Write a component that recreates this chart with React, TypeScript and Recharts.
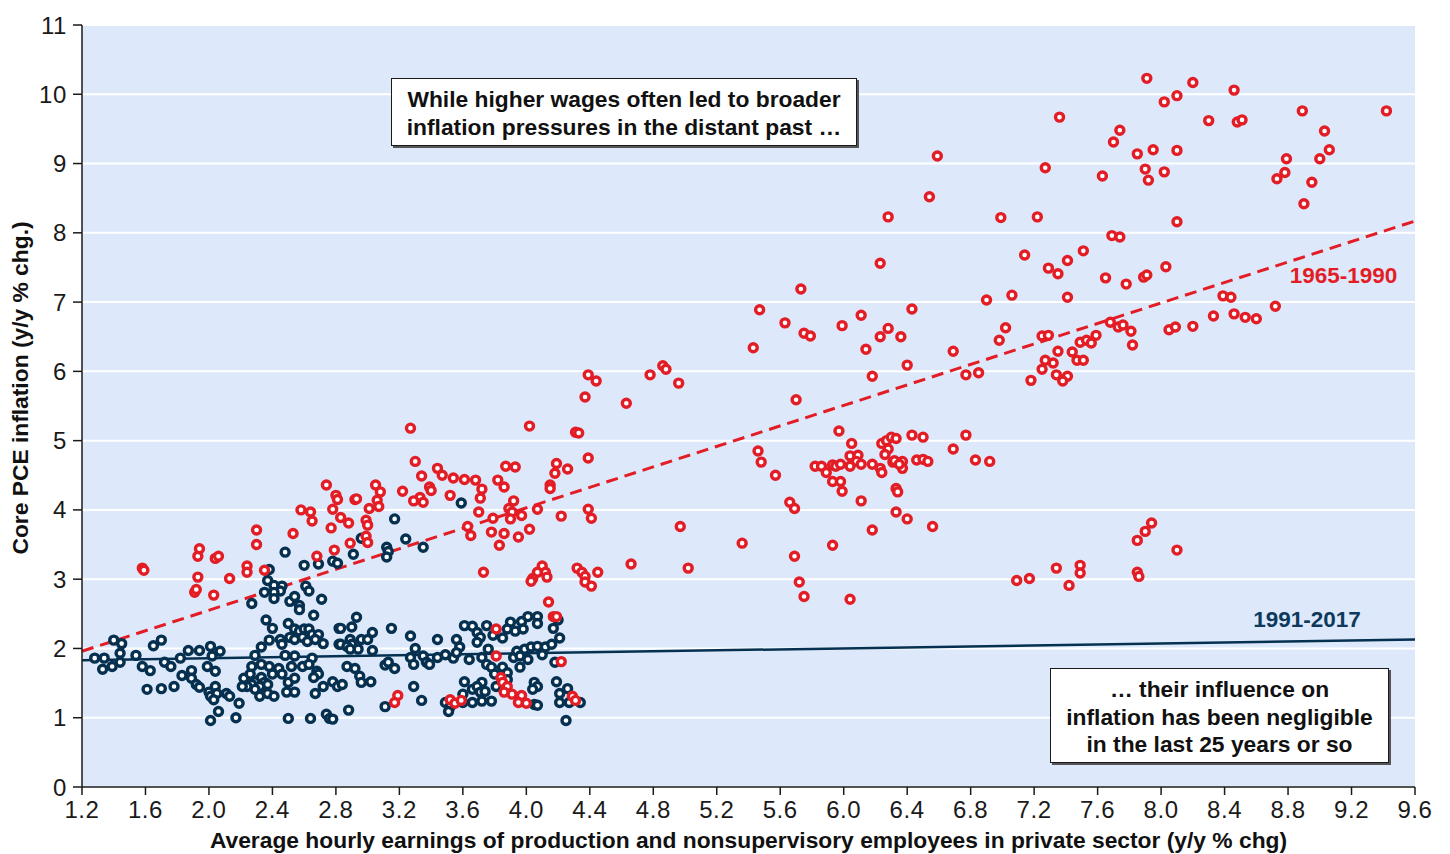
import {
  ScatterChart,
  Scatter,
  XAxis,
  YAxis,
  CartesianGrid,
  ReferenceLine,
  ReferenceDot,
  Label,
} from "recharts";

const RED = "#e31d25";
const NAVY = "#06304f";

const xTicks = [1.2, 1.6, 2.0, 2.4, 2.8, 3.2, 3.6, 4.0, 4.4, 4.8, 5.2, 5.6, 6.0, 6.4, 6.8, 7.2, 7.6, 8.0, 8.4, 8.8, 9.2, 9.6];
const yTicks = [0, 1, 2, 3, 4, 5, 6, 7, 8, 9, 10, 11];

// fitted lines at the axis ends
const trend1965to1990 = [{ x: 1.2, y: 1.96 }, { x: 9.6, y: 8.17 }];
const trend1991to2017 = [{ x: 1.2, y: 1.83 }, { x: 9.6, y: 2.13 }];

// [wage growth, core PCE inflation]
const points1965to1990: [number, number][] = [
  [1.58, 3.16], [1.59, 3.13], [1.93, 3.33], [1.94, 3.44], [1.93, 3.03], [1.91, 2.81], [1.92, 2.85], [2.03, 2.77],
  [2.04, 3.3], [2.06, 3.33], [2.13, 3.01], [2.24, 3.19], [2.24, 3.1], [2.3, 3.71], [2.3, 3.5], [2.35, 3.13],
  [2.68, 3.33], [2.79, 3.42], [2.74, 4.36], [2.8, 4.21], [2.81, 4.15], [2.58, 4.0], [2.64, 3.97], [2.65, 3.84],
  [2.78, 4.01], [2.83, 3.89], [2.53, 3.66], [2.77, 3.74], [2.88, 3.81], [2.99, 3.85], [3.0, 3.78], [2.92, 4.15],
  [2.93, 4.16], [3.01, 4.02], [3.05, 4.36], [3.08, 4.26], [3.06, 4.14], [3.07, 4.05], [2.99, 3.62], [3.0, 3.53],
  [2.89, 3.52], [3.22, 4.27], [3.27, 5.18], [3.3, 4.7], [3.34, 4.49], [3.33, 4.18], [3.29, 4.13], [3.35, 4.11],
  [3.39, 4.33], [3.4, 4.28], [3.44, 4.6], [3.47, 4.5], [3.54, 4.46], [3.52, 4.21], [3.61, 4.44], [3.68, 4.43],
  [3.71, 4.17], [3.72, 4.3], [3.7, 3.97], [3.65, 3.63], [3.63, 3.76], [3.79, 3.88], [3.78, 3.68], [3.83, 3.49],
  [3.82, 4.43], [3.86, 4.33], [3.87, 4.63], [3.93, 4.62], [3.86, 3.66], [3.89, 4.02], [3.92, 4.13], [3.91, 3.97],
  [3.97, 3.92], [3.9, 3.87], [3.95, 3.61], [4.02, 3.72], [4.07, 4.01], [4.02, 5.21], [4.15, 4.36], [4.15, 4.31],
  [4.19, 4.67], [4.18, 4.53], [4.26, 4.59], [4.22, 3.91], [4.31, 5.12], [4.33, 5.11], [4.37, 5.63], [4.39, 5.95],
  [4.44, 5.86], [4.39, 4.75], [4.39, 4.01], [4.41, 3.88], [3.73, 3.1], [4.1, 3.19], [4.07, 3.1], [4.12, 3.1],
  [4.04, 3.01], [4.13, 3.03], [4.03, 2.97], [4.32, 3.16], [4.35, 3.1], [4.37, 3.04], [4.37, 2.96], [4.41, 2.9],
  [4.45, 3.1], [4.14, 2.67], [4.17, 2.46], [4.19, 2.46], [3.81, 2.28], [3.81, 1.89], [4.22, 1.81], [3.84, 1.58],
  [3.85, 1.51], [3.88, 1.45], [3.86, 1.37], [3.91, 1.34], [3.97, 1.32], [3.95, 1.22], [4.0, 1.21], [4.29, 1.31],
  [4.31, 1.25], [3.19, 1.32], [3.17, 1.22], [3.52, 1.26], [3.55, 1.21], [3.59, 1.25],
  [4.63, 5.54], [4.78, 5.95], [4.86, 6.08], [4.88, 6.03], [4.96, 5.83], [4.66, 3.22], [4.97, 3.76], [5.02, 3.16],
  [5.36, 3.52], [5.43, 6.34], [5.47, 6.89], [5.46, 4.85], [5.48, 4.69], [5.57, 4.5], [5.63, 6.7], [5.73, 7.19],
  [5.7, 5.59], [5.66, 4.11], [5.69, 4.02], [5.69, 3.33], [5.72, 2.96], [5.75, 2.75], [5.75, 6.55], [5.79, 6.51],
  [5.82, 4.63], [5.86, 4.63], [5.89, 4.54], [5.93, 4.65], [5.95, 4.63], [5.98, 4.66], [5.93, 4.41], [5.98, 4.41],
  [5.99, 4.27], [5.93, 3.49], [5.97, 5.14], [5.99, 6.66], [6.04, 2.71], [6.05, 4.96], [6.04, 4.78], [6.09, 4.79],
  [6.08, 4.7], [6.04, 4.63], [6.11, 4.66], [6.11, 6.81], [6.14, 6.32], [6.11, 4.13], [6.18, 3.71], [6.18, 4.66],
  [6.23, 4.6], [6.24, 4.54], [6.18, 5.93], [6.23, 7.56], [6.24, 4.96], [6.27, 5.0], [6.3, 5.05], [6.33, 5.03],
  [6.28, 4.88], [6.26, 4.8], [6.23, 6.5], [6.28, 6.62], [6.28, 8.23], [6.31, 4.69], [6.32, 4.71], [6.37, 4.7],
  [6.37, 4.6], [6.35, 4.66], [6.33, 4.31], [6.34, 4.26], [6.33, 3.97], [6.4, 3.87], [6.36, 6.5], [6.4, 6.09],
  [6.43, 6.9], [6.43, 5.08], [6.5, 5.05], [6.46, 4.72], [6.5, 4.73], [6.53, 4.7], [6.54, 8.52], [6.59, 9.11],
  [6.56, 3.76], [6.69, 6.29], [6.77, 5.95], [6.85, 5.98], [6.77, 5.08], [6.69, 4.88], [6.83, 4.72], [6.92, 4.7],
  [6.9, 7.03], [6.98, 6.45], [6.99, 8.22], [7.02, 6.63], [7.06, 7.1], [7.09, 2.98], [7.17, 3.01], [7.14, 7.68],
  [7.18, 5.87], [7.22, 8.23], [7.25, 6.51], [7.29, 6.52], [7.25, 6.03], [7.27, 8.94], [7.27, 6.16], [7.32, 6.12],
  [7.29, 7.49], [7.35, 6.29], [7.34, 5.95], [7.41, 5.93], [7.38, 5.86], [7.35, 7.41], [7.36, 9.67], [7.34, 3.16],
  [7.41, 7.6], [7.41, 7.07], [7.42, 2.91], [7.44, 6.28], [7.47, 6.16], [7.51, 6.16], [7.49, 3.2], [7.49, 3.09],
  [7.49, 6.42], [7.53, 6.45], [7.56, 6.41], [7.51, 7.74], [7.59, 6.52], [7.63, 8.82], [7.65, 7.35], [7.68, 6.71],
  [7.69, 7.96], [7.74, 7.94], [7.7, 9.31], [7.73, 6.64], [7.76, 6.67], [7.74, 9.48], [7.78, 7.26], [7.81, 6.58],
  [7.82, 6.38], [7.85, 9.14], [7.85, 3.56], [7.85, 3.1], [7.86, 3.04], [7.9, 3.69], [7.89, 7.36], [7.91, 7.39],
  [7.9, 8.92], [7.92, 8.76], [7.91, 10.23], [7.94, 3.81], [7.95, 9.2], [8.02, 9.89], [8.02, 8.88], [8.03, 7.51],
  [8.05, 6.6], [8.09, 6.64], [8.1, 9.98], [8.1, 9.19], [8.1, 8.16], [8.1, 3.42], [8.2, 10.17], [8.2, 6.65],
  [8.3, 9.62], [8.33, 6.8], [8.39, 7.09], [8.44, 7.07], [8.46, 10.06], [8.46, 6.83], [8.48, 9.6], [8.51, 9.63],
  [8.53, 6.78], [8.6, 6.76], [8.72, 6.94], [8.73, 8.78], [8.78, 8.87], [8.79, 9.07], [8.89, 9.76], [8.9, 8.42],
  [8.95, 8.73], [9.0, 9.07], [9.03, 9.47], [9.06, 9.2], [9.42, 9.76],
];

const points1991to2017: [number, number][] = [
  [2.48, 3.39], [2.6, 3.2], [2.69, 3.22], [2.78, 3.26], [2.81, 3.23], [2.38, 3.14], [2.37, 2.98], [2.41, 2.91],
  [2.46, 2.9], [2.45, 2.83], [2.35, 2.81], [2.41, 2.81], [2.41, 2.72], [2.27, 2.65], [2.51, 2.68], [2.54, 2.75],
  [2.61, 2.9], [2.63, 2.83], [2.57, 2.62], [2.57, 2.56], [2.71, 2.71], [2.66, 2.48], [2.36, 2.41], [2.4, 2.29],
  [2.5, 2.36], [2.54, 2.28], [2.57, 2.25], [2.6, 2.28], [2.63, 2.28], [2.65, 2.2], [2.69, 2.2], [2.51, 2.16],
  [2.54, 2.13], [2.59, 2.16], [2.62, 2.1], [2.67, 2.13], [2.38, 2.12], [2.45, 2.13], [2.33, 2.02], [2.46, 2.06],
  [2.72, 2.07], [2.82, 2.29], [2.82, 2.06], [1.4, 2.12], [1.45, 2.07], [1.65, 2.04], [1.7, 2.12], [1.28, 1.86],
  [1.34, 1.86], [1.44, 1.93], [1.54, 1.9], [1.44, 1.8], [1.39, 1.74], [1.33, 1.7], [1.58, 1.74], [1.63, 1.68],
  [1.72, 1.8], [1.76, 1.74], [1.82, 1.86], [1.87, 1.97], [1.94, 1.97], [2.01, 2.03], [2.02, 1.89], [2.07, 1.96],
  [2.29, 1.9], [1.83, 1.61], [1.89, 1.68], [1.89, 1.57], [1.92, 1.48], [1.94, 1.44], [1.99, 1.74], [2.04, 1.67],
  [1.61, 1.41], [1.7, 1.42], [1.78, 1.45], [2.0, 1.37], [2.04, 1.45], [2.01, 1.31], [2.05, 1.35], [2.03, 1.26],
  [2.11, 1.35], [2.13, 1.31], [2.19, 1.21], [2.06, 1.09], [2.01, 0.96], [2.17, 1.0], [2.22, 1.57], [2.26, 1.63],
  [2.29, 1.52], [2.33, 1.58], [2.35, 1.51], [2.27, 1.48], [2.32, 1.45], [2.37, 1.48], [2.24, 1.45], [2.29, 1.41],
  [2.27, 1.74], [2.33, 1.77], [2.38, 1.74], [2.44, 1.71], [2.4, 1.63], [2.46, 1.63], [2.21, 1.45], [2.32, 1.31],
  [2.37, 1.35], [2.41, 1.31], [2.5, 1.51], [2.54, 1.57], [2.49, 1.37], [2.54, 1.37], [2.48, 1.9], [2.54, 1.89],
  [2.52, 1.74], [2.59, 1.74], [2.65, 1.86], [2.63, 1.77], [2.68, 1.67], [2.69, 1.63], [2.66, 1.58], [2.72, 1.45],
  [2.78, 1.52], [2.81, 1.45], [2.67, 1.35], [2.5, 0.99], [2.64, 0.99], [2.74, 1.05], [2.76, 0.99], [3.59, 4.1],
  [3.17, 3.87], [3.24, 3.58], [3.35, 3.46], [3.12, 3.46], [3.13, 3.4], [3.12, 3.32], [2.96, 3.59], [2.91, 3.36],
  [2.93, 2.45], [2.83, 2.29], [2.9, 2.31], [3.03, 2.23], [3.15, 2.29], [3.27, 2.18], [2.83, 2.06], [2.89, 2.13],
  [2.9, 2.06], [2.87, 2.03], [2.96, 2.13], [3.0, 2.13], [2.94, 1.99], [2.89, 1.99], [3.03, 1.97], [3.3, 2.0],
  [3.44, 2.13], [3.56, 2.13], [3.58, 2.02], [3.61, 2.33], [3.66, 2.32], [3.69, 2.23], [3.71, 2.16], [3.69, 2.09],
  [3.75, 2.33], [3.79, 2.19], [3.85, 2.15], [3.76, 1.99], [3.9, 2.38], [3.88, 2.28], [3.93, 2.25], [3.97, 2.39],
  [3.98, 2.28], [4.01, 2.46], [4.07, 2.46], [4.07, 2.36], [4.21, 2.15], [4.17, 2.29], [4.2, 2.41], [3.27, 1.87],
  [3.29, 1.77], [3.35, 1.89], [3.37, 1.8], [3.39, 1.77], [3.44, 1.87], [3.49, 1.91], [3.54, 1.86], [3.56, 1.94],
  [3.64, 1.84], [3.72, 1.87], [3.75, 1.77], [3.78, 1.73], [3.8, 1.63], [3.85, 1.73], [3.88, 1.65], [3.92, 1.87],
  [3.94, 1.96], [3.96, 1.89], [3.99, 1.99], [4.03, 2.02], [4.07, 2.03], [4.12, 2.02], [4.16, 2.06], [4.1, 1.91],
  [4.01, 1.84], [3.96, 1.73], [4.18, 1.8], [3.11, 1.76], [3.13, 1.8], [3.17, 1.71], [2.87, 1.74], [2.92, 1.71],
  [2.95, 1.6], [2.96, 1.51], [3.02, 1.52], [2.84, 1.48], [3.29, 1.45], [3.61, 1.52], [3.66, 1.41], [3.72, 1.51],
  [3.69, 1.45], [3.71, 1.37], [3.74, 1.38], [3.81, 1.45], [3.88, 1.55], [4.05, 1.51], [4.07, 1.45], [4.04, 1.41],
  [4.19, 1.52], [4.26, 1.42], [4.21, 1.35], [4.27, 1.22], [4.34, 1.22], [4.21, 1.22], [4.05, 1.19], [4.07, 1.18],
  [3.66, 1.22], [3.72, 1.24], [3.78, 1.24], [3.49, 1.22], [3.52, 1.16], [3.51, 1.09], [3.6, 1.34], [3.6, 1.22],
  [3.34, 1.25], [3.11, 1.16], [2.88, 1.11], [2.78, 0.98], [4.25, 0.96],
];

const toRows = (pts: [number, number][]) => pts.map(([x, y]) => ({ x, y }));

const ring = (color: string) => (props: any) => (
  <circle cx={props.cx} cy={props.cy} r={4} fill="#ffffff" stroke={color} strokeWidth={3.4} />
);

const boxStyle: React.CSSProperties = {
  position: "absolute",
  boxSizing: "border-box",
  background: "#ffffff",
  border: "1.5px solid #1a1a1a",
  boxShadow: "2px 2px 0 #555",
  fontWeight: 700,
  fontSize: 22.8,
  color: "#111",
  textAlign: "center",
};

const tickStyle = { fill: "#1a1a1a", fontSize: 24, letterSpacing: 0.6 };

const YTitle = (props: any) => {
  const vb = props.viewBox || { x: 0, y: 25, width: 82, height: 762 };
  const cx = vb.x + 20;
  const cy = vb.y + vb.height / 2 - 18;
  return (
    <text
      x={cx}
      y={cy}
      transform={`rotate(-90, ${cx}, ${cy})`}
      textAnchor="middle"
      dominantBaseline="central"
      fontSize={22.8}
      fontWeight={700}
      fill="#111"
    >
      Core PCE inflation (y/y % chg.)
    </text>
  );
};

export default function App() {
  return (
    <div
      style={{
        position: "absolute",
        left: 0,
        top: 0,
        width: 1450,
        height: 854,
        background: "#ffffff",
        fontFamily: '"Liberation Sans", Arial, sans-serif',
      }}
    >
      <ScatterChart width={1450} height={854} margin={{ top: 25, right: 35, bottom: 0, left: 0 }}>
        <CartesianGrid vertical={false} stroke="#ffffff" strokeWidth={2} fill="#dde9fb" />
        <XAxis
          type="number"
          dataKey="x"
          domain={[1.2, 9.6]}
          ticks={xTicks}
          tickFormatter={(v: number) => v.toFixed(1)}
          interval={0}
          height={67}
          tickSize={8}
          tickMargin={6}
          axisLine={{ stroke: "#1a1a1a", strokeWidth: 1.5 }}
          tickLine={{ stroke: "#1a1a1a", strokeWidth: 1.5 }}
          tick={tickStyle}
          allowDataOverflow
        >
          <Label
            value="Average hourly earnings of production and nonsupervisory employees in private sector (y/y % chg)"
            position="insideBottom"
            offset={6}
            style={{ fontSize: 22.8, fontWeight: 700, fill: "#111" }}
          />
        </XAxis>
        <YAxis
          type="number"
          dataKey="y"
          domain={[0, 11]}
          ticks={yTicks}
          interval={0}
          width={82}
          tickSize={9}
          tickMargin={6}
          axisLine={{ stroke: "#1a1a1a", strokeWidth: 1.5 }}
          tickLine={{ stroke: "#1a1a1a", strokeWidth: 1.5 }}
          tick={tickStyle}
          allowDataOverflow
        >
          <Label content={<YTitle />} />
        </YAxis>
        <Scatter
          name="1991-2017"
          data={toRows(points1991to2017)}
          shape={ring(NAVY)}
          isAnimationActive={false}
        />
        <Scatter
          name="1965-1990"
          data={toRows(points1965to1990)}
          shape={ring(RED)}
          isAnimationActive={false}
        />
        <ReferenceLine segment={trend1991to2017} stroke={NAVY} strokeWidth={2.5} />
        <ReferenceLine segment={trend1965to1990} stroke={RED} strokeWidth={3} strokeDasharray="12 7" />
        <ReferenceDot
          x={9.15}
          y={7.39}
          r={0}
          label={{ value: "1965-1990", position: "center", fill: RED, fontSize: 22.5, fontWeight: 700 }}
        />
        <ReferenceDot
          x={8.92}
          y={2.42}
          r={0}
          label={{ value: "1991-2017", position: "center", fill: "#0d3a5c", fontSize: 22.5, fontWeight: 700 }}
        />
      </ScatterChart>

      <div style={{ ...boxStyle, left: 391, top: 78, width: 466, height: 68, paddingTop: 6, lineHeight: "28px" }}>
        While higher wages often led to broader
        <br />
        inflation pressures in the distant past …
      </div>
      <div style={{ ...boxStyle, left: 1050, top: 668, width: 339, height: 95, paddingTop: 7, lineHeight: "27.5px" }}>
        … their influence on
        <br />
        inflation has been negligible
        <br />
        in the last 25 years or so
      </div>
    </div>
  );
}
